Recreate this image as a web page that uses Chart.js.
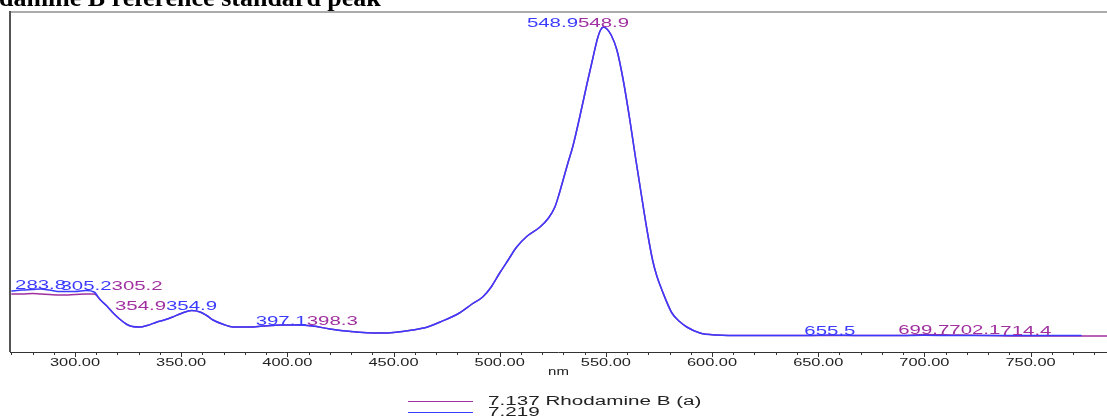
<!DOCTYPE html>
<html>
<head>
<meta charset="utf-8">
<script src="https://cdn.jsdelivr.net/npm/chart.js@4.4.1/dist/chart.umd.min.js"></script>
<style>
  body { margin: 0; background: #fff; }
  #wrap { width: 1107px; height: 417px; position: relative; }
</style>
</head>
<body>
<div id="wrap"><canvas id="spectrum" width="1107" height="417"></canvas></div>
<script>
// wavelength (nm) and absorbance
const wavelengths = [270, 275, 280, 283.8, 288, 293, 300, 305.2, 309, 312, 315, 318, 321, 324.5, 327, 330.6, 334, 338.6, 342, 346,
    350, 354.9, 358.9, 362, 365, 370, 374.4, 382.4, 388.5, 397.1, 404.5, 412, 420, 430, 443.6, 450, 459, 466, 472, 481,
    487, 492, 496, 500, 504, 508, 513, 519, 523, 526, 528, 530, 532, 534.5, 537.8, 541.1, 543.9, 546, 547.5, 548.9,
    550.5, 552.5, 555.2, 558, 561.3, 563.7, 566, 569.3, 572.1, 574, 576.4, 581.1, 585, 588.1, 594.3, 602.3, 615, 630, 645, 655.5,
    670, 690, 699.7, 714.4, 730, 750, 774, 786];

const abs7219 = [0.305, 0.31, 0.3125, 0.315, 0.31, 0.3025, 0.3025, 0.3075, 0.30, 0.26, 0.23, 0.195, 0.165, 0.1375, 0.1275, 0.125, 0.1325, 0.15, 0.16, 0.175,
    0.1925, 0.2075, 0.20, 0.1825, 0.16, 0.1375, 0.125, 0.125, 0.13, 0.135, 0.135, 0.13, 0.115, 0.1025, 0.095, 0.0975, 0.11, 0.125, 0.15, 0.195,
    0.24, 0.275, 0.325, 0.395, 0.46, 0.525, 0.58, 0.625, 0.67, 0.725, 0.79, 0.865, 0.94, 1.03, 1.18, 1.34, 1.47, 1.565, 1.61, 1.625,
    1.615, 1.585, 1.51, 1.37, 1.16, 0.99, 0.835, 0.615, 0.455, 0.38, 0.31, 0.195, 0.15, 0.125, 0.095, 0.085, 0.0825, 0.0825, 0.0825, 0.085,
    0.0825, 0.0825, 0.0835, 0.0825, 0.0825, 0.0825, 0.0825, null];

const abs7137 = [0.29, 0.29, 0.2925, 0.29, 0.2875, 0.285, 0.2875, 0.29, 0.29, 0.26, 0.23, 0.195, 0.165, 0.1375, 0.1275, 0.125, 0.1325, 0.15, 0.16, 0.175,
    0.1925, 0.2075, 0.20, 0.1825, 0.16, 0.1375, 0.125, 0.125, 0.13, 0.135, 0.135, 0.13, 0.115, 0.1025, 0.095, 0.0975, 0.11, 0.125, 0.15, 0.195,
    0.24, 0.275, 0.325, 0.395, 0.46, 0.525, 0.58, 0.625, 0.67, 0.725, 0.79, 0.865, 0.94, 1.03, 1.18, 1.34, 1.47, 1.565, 1.61, 1.625,
    1.615, 1.585, 1.51, 1.37, 1.16, 0.99, 0.835, 0.615, 0.455, 0.38, 0.31, 0.195, 0.15, 0.125, 0.095, 0.085, 0.0825, 0.0825, 0.0825, 0.0825,
    0.0825, 0.0825, 0.0875, 0.085, 0.0825, 0.08, 0.08, 0.08];

const seriesNames = ['7.137 Rhodamine B (a)', '7.219'];
const seriesColors = ['#a0309f', '#3b3bff'];

// peak picks: [series index, nm, placement] placement 0 = centred, 1 = after previous, -1 = before previous
const peakLabels = [
    [1, 283.8, 0], [1, 305.2, 0], [0, 305.2, 1],
    [1, 354.9, 0], [0, 354.9, -1],
    [1, 397.1, 0], [0, 398.3, 1],
    [0, 548.9, 0], [1, 548.9, -1],
    [1, 655.5, 0],
    [0, 699.7, 0], [0, 702.1, 1], [0, 714.4, 1]
];

const chartTitle = 'Rhodamine B reference standard peak';
const xTitle = 'nm';

function toPoints(vals) {
    return wavelengths.map((w, i) => ({x: w, y: vals[i]}));
}

function interp(vals, w) {
    for (let i = 0; i < wavelengths.length - 1; i++) {
        if (w >= wavelengths[i] && w <= wavelengths[i + 1] && vals[i] != null && vals[i + 1] != null) {
            const t = (w - wavelengths[i]) / (wavelengths[i + 1] - wavelengths[i]);
            return vals[i] + t * (vals[i + 1] - vals[i]);
        }
    }
    return 0;
}

// text in the original is stretched sideways
function wideText(ctx, t, x, y, sx) {
    ctx.save();
    ctx.translate(x, y);
    ctx.scale(sx, 1);
    ctx.textAlign = 'left';
    ctx.fillText(t, 0, 0);
    ctx.restore();
    return ctx.measureText(t).width * sx;
}

const spectrumPlugin = {
    id: 'spectrum',
    beforeDatasetsDraw(chart) {
        const {ctx, chartArea: a, scales: {x}} = chart;
        ctx.save();
        ctx.strokeStyle = '#8f8f8f';
        ctx.lineWidth = 1.5;
        ctx.beginPath(); ctx.moveTo(a.left, a.top); ctx.lineTo(a.right, a.top); ctx.stroke();
        ctx.strokeStyle = '#555';
        ctx.lineWidth = 2;
        ctx.beginPath(); ctx.moveTo(a.left, a.top - 1); ctx.lineTo(a.left, a.bottom); ctx.stroke();
        ctx.strokeStyle = '#333';
        ctx.lineWidth = 1;
        ctx.beginPath(); ctx.moveTo(a.left, a.bottom + 0.5); ctx.lineTo(a.right, a.bottom + 0.5); ctx.stroke();
        x.ticks.forEach(t => {
            const px = Math.round(x.getPixelForValue(t.value)) + 0.5;
            const len = t.value % 50 === 0 ? 5 : 3;
            ctx.beginPath(); ctx.moveTo(px, a.bottom); ctx.lineTo(px, a.bottom + len); ctx.stroke();
        });
        ctx.restore();
    },
    afterDatasetsDraw(chart) {
        const {ctx, scales: {x, y}} = chart;
        ctx.save();
        ctx.font = '13px "Liberation Sans"';
        ctx.textBaseline = 'alphabetic';
        const sx = 1.57;
        let prevLeft = 0, prevRight = 0;
        peakLabels.forEach(([s, w, place]) => {
            const text = w.toFixed(1);
            const width = ctx.measureText(text).width * sx;
            const px = x.getPixelForValue(w);
            const top = Math.max(interp(abs7137, w), interp(abs7219, w));
            const py = y.getPixelForValue(top);
            let left = px - width / 2;
            if (place === 1) left = prevRight;
            if (place === -1) left = prevLeft - width;
            ctx.fillStyle = seriesColors[s];
            wideText(ctx, text, left, py - 0.5, sx);
            prevLeft = left;
            prevRight = left + width;
        });
        ctx.restore();
    },
    afterDraw(chart) {
        const {ctx, chartArea: a, scales: {x}} = chart;
        ctx.save();
        // tick labels
        ctx.fillStyle = '#222';
        ctx.font = '11px "Liberation Sans"';
        ctx.textBaseline = 'alphabetic';
        const tsx = 1.49;
        x.ticks.forEach(t => {
            if (t.value % 50 !== 0) return;
            const text = t.value.toFixed(2);
            const w = ctx.measureText(text).width * tsx;
            wideText(ctx, text, x.getPixelForValue(t.value) - w / 2, a.bottom + 14, tsx);
        });
        // axis title
        ctx.font = '10px "Liberation Sans"';
        const nw = ctx.measureText(xTitle).width * 1.5;
        wideText(ctx, xTitle, (a.left + a.right) / 2 - nw / 2, a.bottom + 23, 1.5);
        // legend
        const rows = [405, 416];
        chart.data.datasets.slice().sort((p, q) => p.legendRow - q.legendRow).forEach((ds, i) => {
            ctx.strokeStyle = ds.borderColor;
            ctx.lineWidth = 1;
            ctx.beginPath(); ctx.moveTo(408, rows[i] - 3.5); ctx.lineTo(473, rows[i] - 3.5); ctx.stroke();
            ctx.fillStyle = '#222';
            ctx.font = '12px "Liberation Sans"';
            wideText(ctx, ds.label, 488, rows[i], 1.72);
        });
        // title, cut at the top edge like the original
        ctx.fillStyle = '#000';
        ctx.font = 'bold 26px "Liberation Serif"';
        const cut = ctx.measureText('Rho').width;
        ctx.textAlign = 'left';
        ctx.fillText(chartTitle, -cut - 1, 6);
        ctx.restore();
    }
};

new Chart(document.getElementById('spectrum'), {
    type: 'line',
    data: {
        datasets: [
            {
                label: seriesNames[1],
                data: toPoints(abs7219),
                borderColor: seriesColors[1],
                borderWidth: 1.5,
                pointRadius: 0,
                cubicInterpolationMode: 'monotone',
                order: 0,
                legendRow: 1
            },
            {
                label: seriesNames[0],
                data: toPoints(abs7137),
                borderColor: seriesColors[0],
                borderWidth: 1.5,
                pointRadius: 0,
                cubicInterpolationMode: 'monotone',
                order: 1,
                legendRow: 0
            }
        ]
    },
    options: {
        responsive: false,
        animation: false,
        devicePixelRatio: 1,
        layout: {padding: {left: 10, top: 12, right: 0, bottom: 65}},
        plugins: {legend: {display: false}, tooltip: {enabled: false}, title: {display: false}},
        scales: {
            x: {
                type: 'linear',
                min: 269.4,
                max: 786,
                grid: {display: false, drawTicks: false},
                border: {display: false},
                ticks: {display: false, stepSize: 10, includeBounds: false}
            },
            y: {
                display: false,
                min: 0,
                max: 1.7
            }
        }
    },
    plugins: [spectrumPlugin]
});
</script>
</body>
</html>
